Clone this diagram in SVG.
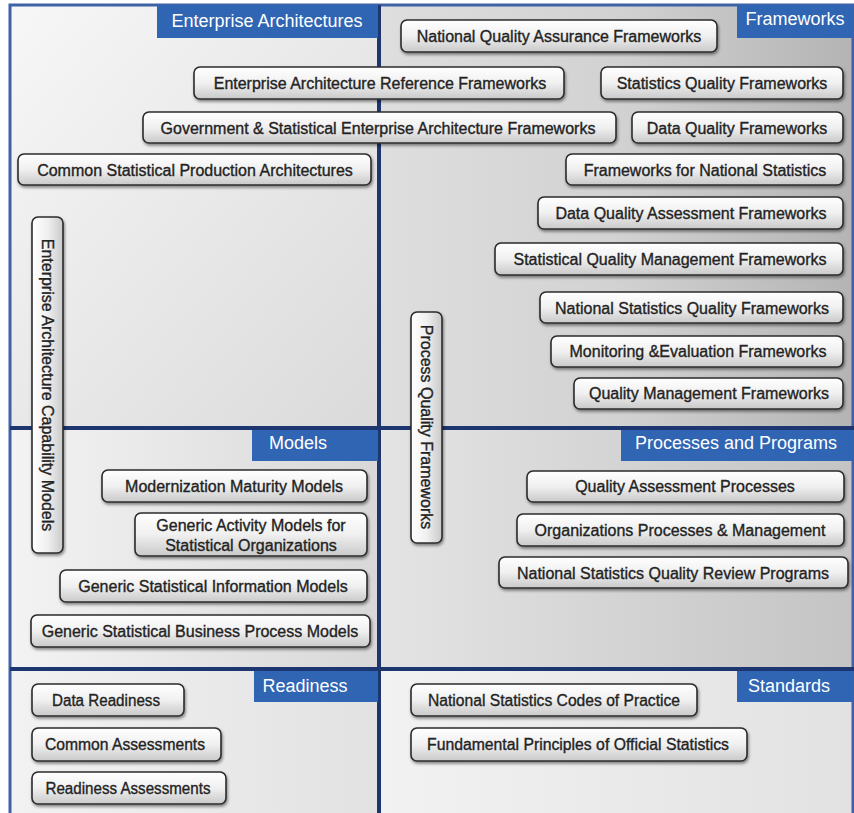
<svg xmlns="http://www.w3.org/2000/svg" width="854" height="813" viewBox="0 0 854 813">
<style>
.box{fill:url(#btn);stroke:#2b2b2b;stroke-width:1.6;filter:url(#sh)}
.t{font-family:"Liberation Sans",Arial,sans-serif;font-size:16px;fill:#232323;stroke:#232323;stroke-width:0.35;text-anchor:middle;dominant-baseline:central}
.tab{fill:#2f65b3}
.tt{font-family:"Liberation Sans",Arial,sans-serif;font-size:18px;fill:#ffffff;text-anchor:middle;dominant-baseline:central}
.div{stroke:#1d3670;stroke-width:4;fill:none}
</style>
<defs>
<linearGradient id="btn" x1="0" y1="0" x2="0" y2="1">
<stop offset="0" stop-color="#ffffff"/><stop offset="0.5" stop-color="#f0f0f0"/><stop offset="1" stop-color="#c9c9c9"/>
</linearGradient>
<linearGradient id="vbtn" x1="0" y1="0" x2="1" y2="0">
<stop offset="0" stop-color="#ffffff"/><stop offset="0.5" stop-color="#f0f0f0"/><stop offset="1" stop-color="#c9c9c9"/>
</linearGradient>
<linearGradient id="bgTL" x1="0" y1="0" x2="1" y2="1">
<stop offset="0" stop-color="#f7f7f7"/><stop offset="1" stop-color="#dadada"/>
</linearGradient>
<linearGradient id="bgTR" x1="0" y1="0" x2="1" y2="0">
<stop offset="0" stop-color="#dedede"/><stop offset="0.5" stop-color="#d2d2d2"/><stop offset="1" stop-color="#b4b4b4"/>
</linearGradient>
<linearGradient id="bgML" x1="0" y1="0" x2="1" y2="0">
<stop offset="0" stop-color="#f3f3f3"/><stop offset="1" stop-color="#d8d8d8"/>
</linearGradient>
<linearGradient id="bgMR" x1="0" y1="0" x2="1" y2="0">
<stop offset="0" stop-color="#e4e4e4"/><stop offset="1" stop-color="#c4c4c4"/>
</linearGradient>
<linearGradient id="bgB" x1="0" y1="0" x2="1" y2="0">
<stop offset="0" stop-color="#f2f2f2"/><stop offset="1" stop-color="#e2e2e2"/>
</linearGradient>
<filter id="sh" x="-10%" y="-30%" width="120%" height="170%">
<feDropShadow dx="1" dy="2" stdDeviation="1.5" flood-color="#000" flood-opacity="0.45"/>
</filter>
</defs>
<rect x="0" y="0" width="854" height="813" fill="#ffffff"/>
<g id="background">
<rect x="10" y="5" width="369" height="423" fill="url(#bgTL)"/>
<rect x="379" y="5" width="475" height="423" fill="url(#bgTR)"/>
<rect x="10" y="428" width="369" height="241" fill="url(#bgML)"/>
<rect x="379" y="428" width="475" height="241" fill="url(#bgMR)"/>
<rect x="10" y="669" width="369" height="144" fill="url(#bgB)"/>
<rect x="379" y="669" width="475" height="144" fill="url(#bgB)"/>
</g>
<g id="dividers">
<rect x="10" y="5" width="843" height="820" fill="none" stroke="#3f62a6" stroke-width="3"/>
<line class="div" x1="379" y1="5" x2="379" y2="813"/>
<line class="div" x1="10" y1="428" x2="854" y2="428"/>
<line class="div" x1="10" y1="669" x2="854" y2="669"/>
</g>
<g id="tab-enterprise-architectures"><rect class="tab" x="157" y="5" width="221" height="33"/><text class="tt" x="267" y="21">Enterprise Architectures</text></g>
<g id="tab-frameworks"><rect class="tab" x="737" y="5" width="116" height="33"/><text class="tt" x="795" y="19">Frameworks</text></g>
<g id="tab-models"><rect class="tab" x="252" y="430" width="126" height="31"/><text class="tt" x="298" y="443">Models</text></g>
<g id="tab-processes"><rect class="tab" x="621" y="430" width="232" height="31"/><text class="tt" x="736" y="443">Processes and Programs</text></g>
<g id="tab-readiness"><rect class="tab" x="254" y="671" width="124" height="31"/><text class="tt" x="305" y="686">Readiness</text></g>
<g id="tab-standards"><rect class="tab" x="737" y="671" width="116" height="31"/><text class="tt" x="789" y="686">Standards</text></g>

<g id="n-national-quality-assurance"><rect class="box" x="401" y="20" width="316" height="32" rx="6"/><text class="t" x="559" y="36">National Quality Assurance Frameworks</text></g>
<g id="n-ea-reference"><rect class="box" x="194" y="67" width="370" height="32" rx="6"/><text class="t" x="380" y="83">Enterprise Architecture Reference Frameworks</text></g>
<g id="n-statistics-quality"><rect class="box" x="601" y="67" width="242" height="32" rx="6"/><text class="t" x="722" y="83">Statistics Quality Frameworks</text></g>
<g id="n-gov-stat-ea"><rect class="box" x="143" y="112" width="473" height="31" rx="6"/><text class="t" x="378" y="128">Government &amp; Statistical Enterprise Architecture Frameworks</text></g>
<g id="n-data-quality"><rect class="box" x="632" y="112" width="211" height="31" rx="6"/><text class="t" x="737" y="128">Data Quality Frameworks</text></g>
<g id="n-common-stat-production"><rect class="box" x="18" y="154" width="353" height="31" rx="6"/><text class="t" x="195" y="170">Common Statistical Production Architectures</text></g>
<g id="n-frameworks-national-stats"><rect class="box" x="566" y="154" width="277" height="31" rx="6"/><text class="t" x="705" y="170">Frameworks for National Statistics</text></g>
<g id="n-data-quality-assessment"><rect class="box" x="538" y="197" width="305" height="32" rx="6"/><text class="t" x="691" y="213">Data Quality Assessment Frameworks</text></g>
<g id="n-stat-quality-mgmt"><rect class="box" x="495" y="243" width="348" height="32" rx="6"/><text class="t" x="670" y="259">Statistical Quality Management Frameworks</text></g>
<g id="n-national-stats-quality"><rect class="box" x="540" y="292" width="303" height="31" rx="6"/><text class="t" x="692" y="308">National Statistics Quality Frameworks</text></g>
<g id="n-monitoring-evaluation"><rect class="box" x="551" y="336" width="292" height="31" rx="6"/><text class="t" x="698" y="351">Monitoring &amp;Evaluation Frameworks</text></g>
<g id="n-quality-management"><rect class="box" x="574" y="378" width="269" height="31" rx="6"/><text class="t" x="709" y="393">Quality Management Frameworks</text></g>

<g id="n-ea-capability-models"><rect class="box" x="32" y="217" width="31" height="336" rx="6" style="fill:url(#vbtn)"/><text class="t" transform="translate(47.5 385) rotate(90)">Enterprise Architecture Capability Models</text></g>
<g id="n-process-quality-frameworks"><rect class="box" x="411" y="312" width="31" height="231" rx="6" style="fill:url(#vbtn)"/><text class="t" transform="translate(426.5 427) rotate(90)">Process Quality Frameworks</text></g>

<g id="n-modernization-maturity"><rect class="box" x="102" y="470" width="265" height="32" rx="6"/><text class="t" x="234" y="486">Modernization Maturity Models</text></g>
<g id="n-generic-activity"><rect class="box" x="135" y="513" width="232" height="43" rx="6"/><text class="t" x="251" y="525">Generic Activity Models for</text><text class="t" x="251" y="545">Statistical Organizations</text></g>
<g id="n-generic-stat-info"><rect class="box" x="60" y="570" width="307" height="32" rx="6"/><text class="t" x="213" y="586">Generic Statistical Information Models</text></g>
<g id="n-generic-stat-business"><rect class="box" x="31" y="615" width="339" height="32" rx="6"/><text class="t" x="200" y="631">Generic Statistical Business Process Models</text></g>

<g id="n-quality-assessment-processes"><rect class="box" x="527" y="471" width="317" height="31" rx="6"/><text class="t" x="685" y="486">Quality Assessment Processes</text></g>
<g id="n-org-processes"><rect class="box" x="517" y="514" width="327" height="32" rx="6"/><text class="t" x="680" y="530">Organizations Processes &amp; Management</text></g>
<g id="n-nsqr-programs"><rect class="box" x="499" y="557" width="349" height="31" rx="6"/><text class="t" x="673" y="573">National Statistics Quality Review Programs</text></g>

<g id="n-data-readiness"><rect class="box" x="32" y="684" width="152" height="32" rx="6"/><text class="t" x="106" y="700" textLength="108" lengthAdjust="spacingAndGlyphs">Data Readiness</text></g>
<g id="n-common-assessments"><rect class="box" x="32" y="728" width="189" height="33" rx="6"/><text class="t" x="125" y="744" textLength="160" lengthAdjust="spacingAndGlyphs">Common Assessments</text></g>
<g id="n-readiness-assessments"><rect class="box" x="32" y="772" width="194" height="32" rx="6"/><text class="t" x="128" y="788" textLength="165" lengthAdjust="spacingAndGlyphs">Readiness Assessments</text></g>
<g id="n-codes-of-practice"><rect class="box" x="411" y="684" width="286" height="32" rx="6"/><text class="t" x="554" y="700" textLength="252" lengthAdjust="spacingAndGlyphs">National Statistics Codes of Practice</text></g>
<g id="n-fundamental-principles"><rect class="box" x="411" y="728" width="336" height="33" rx="6"/><text class="t" x="578" y="744" textLength="302" lengthAdjust="spacingAndGlyphs">Fundamental Principles of Official Statistics</text></g>
</svg>
